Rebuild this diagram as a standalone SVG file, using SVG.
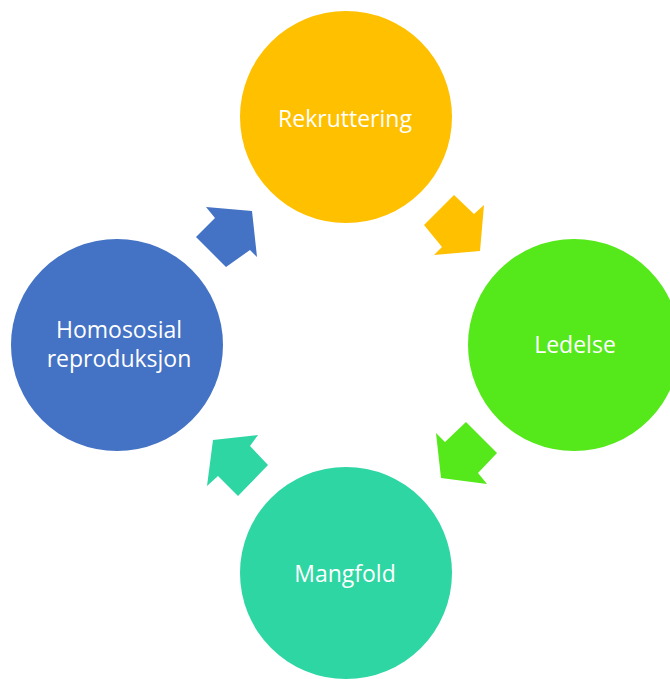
<svg xmlns="http://www.w3.org/2000/svg" width="670" height="679" viewBox="0 0 670 679">
<style>
.lbl{font-family:"Open Sans","Liberation Sans",sans-serif;font-size:23px;fill:#ffffff;text-anchor:middle}
</style>
<rect width="670" height="679" fill="#ffffff"/>
<g id="connectors">
<polygon fill="#4472C4" points="206,207 252,211 257,257 250,250 226,267 196,237 215,218"/>
<polygon fill="#FFC000" points="454,195 474,214 484,205 480,251 434,255 442,247 424,225"/>
<polygon fill="#55E81B" points="436,433 445,442 466,422 497,453 478,473 487,484 441,478"/>
<polygon fill="#2ED6A3" points="213,440 258,435 250,446 268,465 238,496 218,476 207,486"/>
</g>
<g id="rekruttering">
<circle cx="346" cy="117" r="106" fill="#FFC000"/>
<text class="lbl" x="345" y="127">Rekruttering</text>
</g>
<g id="ledelse">
<circle cx="574" cy="345" r="106" fill="#55E81B"/>
<text class="lbl" x="575" y="353">Ledelse</text>
</g>
<g id="mangfold">
<circle cx="346" cy="573" r="106" fill="#2ED6A3"/>
<text class="lbl" x="345" y="582">Mangfold</text>
</g>
<g id="homososial">
<circle cx="117" cy="345" r="106" fill="#4472C4"/>
<text class="lbl" x="119" y="338">Homososial</text>
<text class="lbl" x="119" y="367">reproduksjon</text>
</g>
</svg>
